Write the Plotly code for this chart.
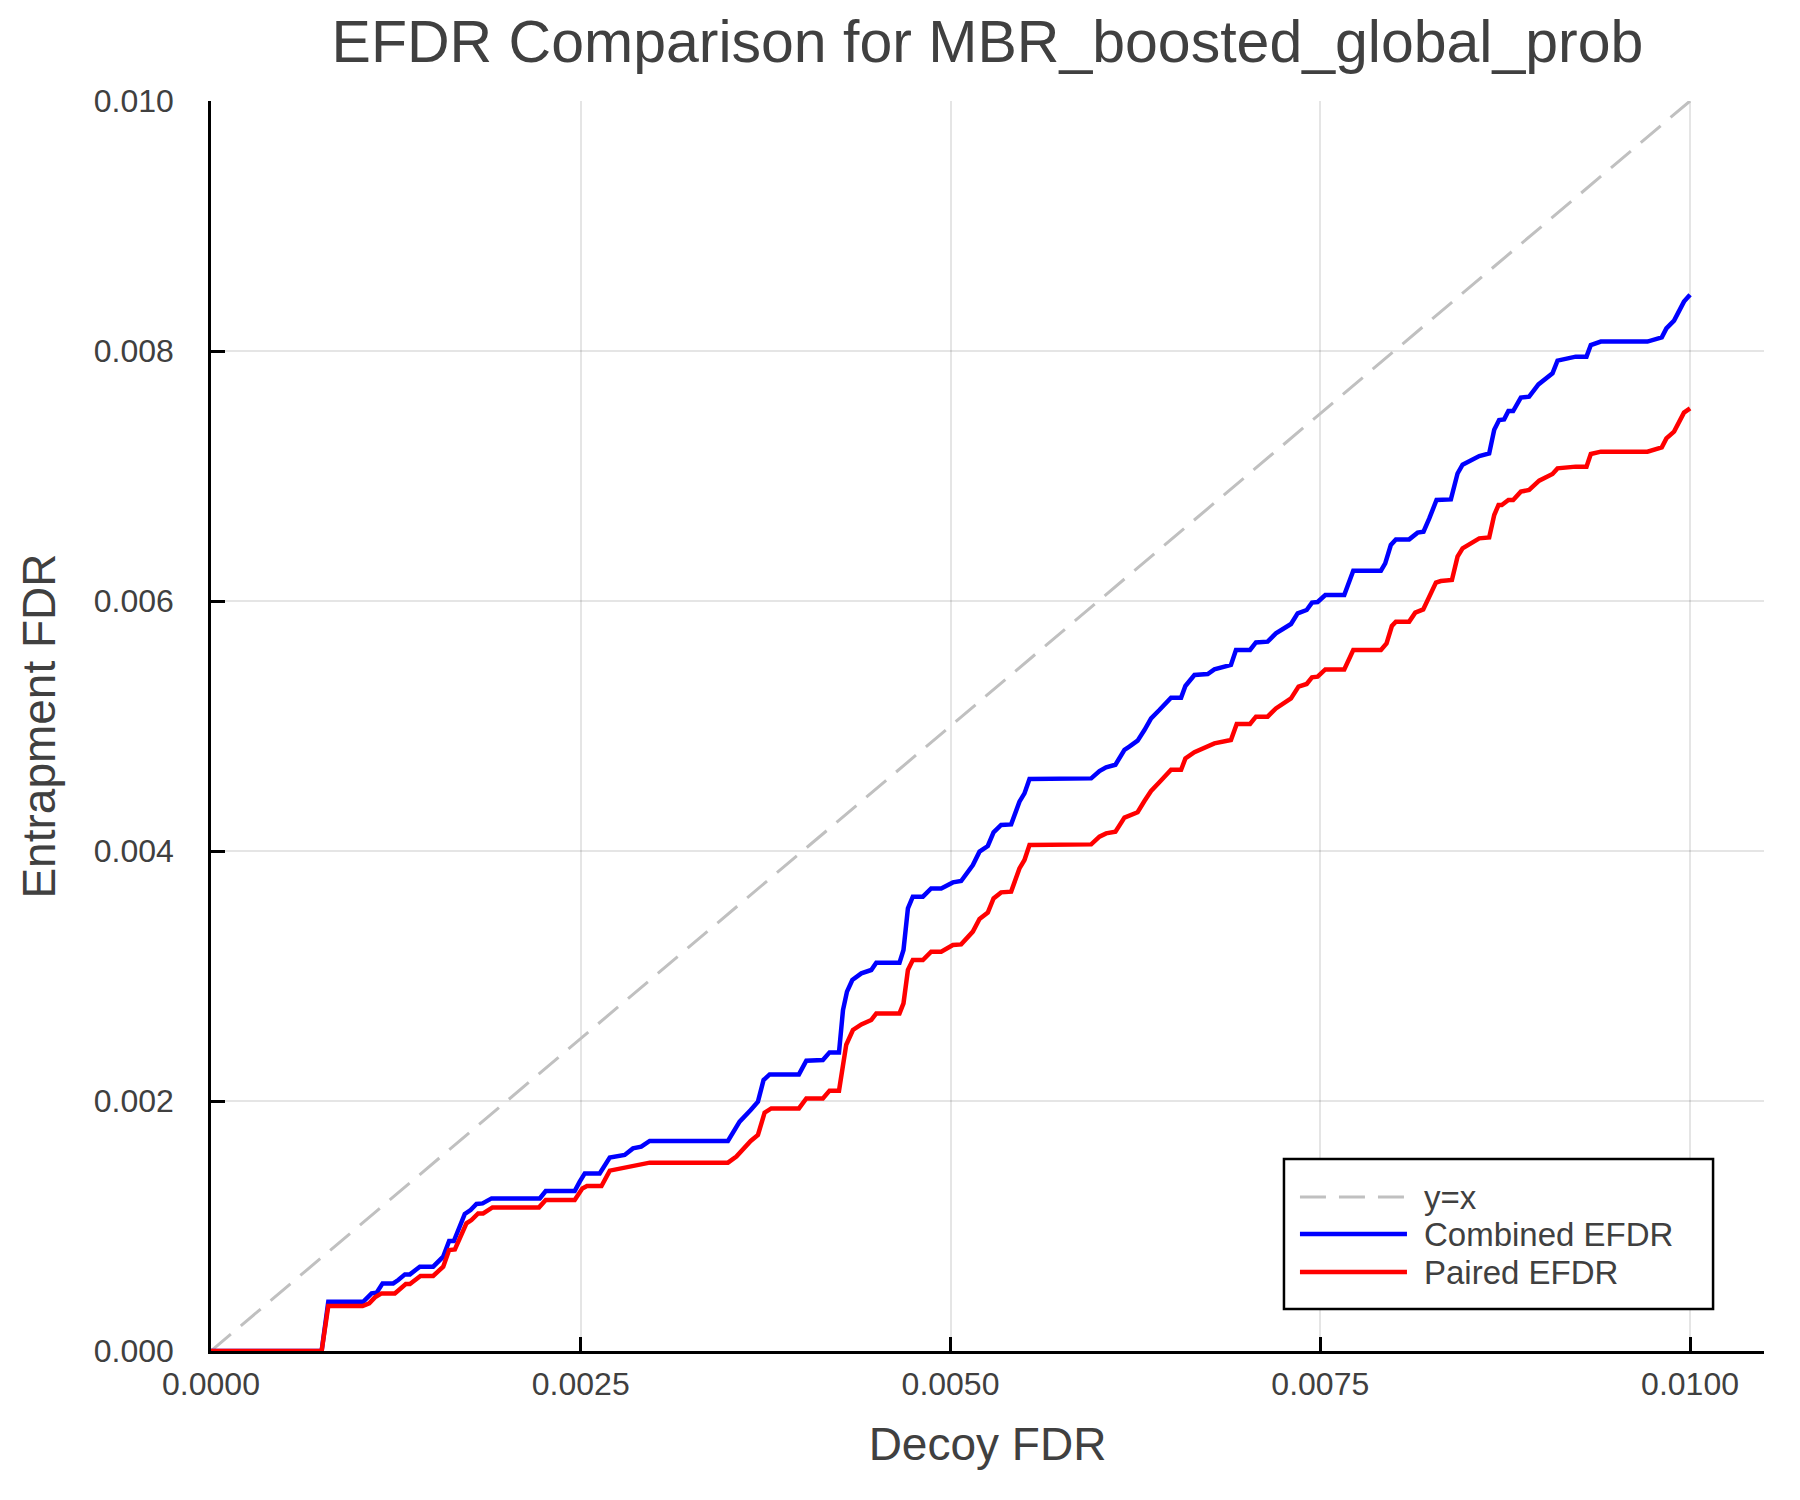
import plotly.graph_objects as go

# ---- data ----
diag_x = [0.0, 0.010]
diag_y = [0.0, 0.010]

combined_x = [0.0, 0.748e-3, 0.793e-3, 1.029e-3, 1.086e-3, 1.120e-3, 1.160e-3, 1.232e-3, 1.266e-3, 1.311e-3,
              1.345e-3, 1.412e-3, 1.502e-3, 1.570e-3, 1.610e-3, 1.642e-3, 1.716e-3, 1.755e-3, 1.795e-3, 1.836e-3,
              1.897e-3, 2.223e-3, 2.263e-3, 2.459e-3, 2.493e-3, 2.527e-3, 2.628e-3, 2.696e-3, 2.797e-3, 2.853e-3,
              2.909e-3, 2.966e-3, 3.495e-3, 3.574e-3, 3.649e-3, 3.698e-3, 3.736e-3, 3.777e-3, 3.975e-3, 4.025e-3,
              4.137e-3, 4.182e-3, 4.246e-3, 4.273e-3, 4.300e-3, 4.336e-3, 4.397e-3, 4.464e-3, 4.498e-3, 4.655e-3,
              4.682e-3, 4.712e-3, 4.745e-3, 4.813e-3, 4.869e-3, 4.937e-3, 5.016e-3, 5.072e-3, 5.151e-3, 5.196e-3,
              5.252e-3, 5.291e-3, 5.342e-3, 5.410e-3, 5.466e-3, 5.500e-3, 5.534e-3, 5.951e-3, 6.007e-3, 6.052e-3,
              6.115e-3, 6.176e-3, 6.209e-3, 6.265e-3, 6.311e-3, 6.356e-3, 6.412e-3, 6.491e-3, 6.559e-3, 6.588e-3,
              6.649e-3, 6.739e-3, 6.784e-3, 6.896e-3, 6.930e-3, 7.025e-3, 7.065e-3, 7.144e-3, 7.200e-3, 7.302e-3,
              7.347e-3, 7.408e-3, 7.444e-3, 7.482e-3, 7.534e-3, 7.662e-3, 7.723e-3, 7.910e-3, 7.939e-3, 7.977e-3,
              8.011e-3, 8.101e-3, 8.158e-3, 8.198e-3, 8.237e-3, 8.286e-3, 8.383e-3, 8.428e-3, 8.462e-3, 8.575e-3,
              8.642e-3, 8.676e-3, 8.709e-3, 8.743e-3, 8.772e-3, 8.804e-3, 8.856e-3, 8.912e-3, 8.975e-3, 9.014e-3,
              9.070e-3, 9.104e-3, 9.227e-3, 9.300e-3, 9.329e-3, 9.397e-3, 9.712e-3, 9.809e-3, 9.840e-3, 9.892e-3,
              9.959e-3, 10.0e-3]
combined_y = [0.0, 0.0, 0.394e-3, 0.394e-3, 0.461e-3, 0.467e-3, 0.541e-3, 0.541e-3, 0.568e-3, 0.613e-3,
              0.613e-3, 0.675e-3, 0.675e-3, 0.755e-3, 0.880e-3, 0.880e-3, 1.096e-3, 1.128e-3, 1.176e-3, 1.181e-3,
              1.221e-3, 1.221e-3, 1.280e-3, 1.280e-3, 1.355e-3, 1.421e-3, 1.421e-3, 1.547e-3, 1.568e-3, 1.621e-3,
              1.635e-3, 1.680e-3, 1.680e-3, 1.835e-3, 1.928e-3, 1.995e-3, 2.168e-3, 2.213e-3, 2.213e-3, 2.323e-3,
              2.328e-3, 2.389e-3, 2.389e-3, 2.728e-3, 2.875e-3, 2.968e-3, 3.021e-3, 3.048e-3, 3.107e-3, 3.107e-3,
              3.208e-3, 3.541e-3, 3.635e-3, 3.635e-3, 3.701e-3, 3.701e-3, 3.749e-3, 3.760e-3, 3.888e-3, 3.995e-3,
              4.040e-3, 4.149e-3, 4.208e-3, 4.213e-3, 4.395e-3, 4.461e-3, 4.576e-3, 4.581e-3, 4.640e-3, 4.670e-3,
              4.690e-3, 4.810e-3, 4.835e-3, 4.883e-3, 4.968e-3, 5.061e-3, 5.128e-3, 5.227e-3, 5.227e-3, 5.320e-3,
              5.408e-3, 5.416e-3, 5.453e-3, 5.488e-3, 5.608e-3, 5.608e-3, 5.669e-3, 5.675e-3, 5.741e-3, 5.816e-3,
              5.901e-3, 5.928e-3, 5.987e-3, 5.992e-3, 6.048e-3, 6.048e-3, 6.243e-3, 6.243e-3, 6.301e-3, 6.448e-3,
              6.493e-3, 6.493e-3, 6.547e-3, 6.555e-3, 6.661e-3, 6.808e-3, 6.813e-3, 7.020e-3, 7.090e-3, 7.160e-3,
              7.180e-3, 7.370e-3, 7.448e-3, 7.453e-3, 7.520e-3, 7.520e-3, 7.627e-3, 7.635e-3, 7.733e-3, 7.768e-3,
              7.821e-3, 7.923e-3, 7.955e-3, 7.955e-3, 8.048e-3, 8.075e-3, 8.075e-3, 8.109e-3, 8.181e-3, 8.243e-3,
              8.395e-3, 8.450e-3]

paired_x = [0.0, 0.748e-3, 0.793e-3, 1.025e-3, 1.070e-3, 1.108e-3, 1.153e-3, 1.243e-3, 1.317e-3, 1.345e-3,
            1.416e-3, 1.502e-3, 1.570e-3, 1.610e-3, 1.649e-3, 1.727e-3, 1.761e-3, 1.806e-3, 1.840e-3, 1.903e-3,
            2.218e-3, 2.263e-3, 2.459e-3, 2.511e-3, 2.542e-3, 2.640e-3, 2.696e-3, 2.764e-3, 2.853e-3, 2.966e-3,
            3.495e-3, 3.552e-3, 3.649e-3, 3.698e-3, 3.743e-3, 3.788e-3, 3.975e-3, 4.025e-3, 4.137e-3, 4.182e-3,
            4.246e-3, 4.265e-3, 4.295e-3, 4.340e-3, 4.397e-3, 4.464e-3, 4.498e-3, 4.655e-3, 4.682e-3, 4.712e-3,
            4.745e-3, 4.813e-3, 4.869e-3, 4.937e-3, 5.016e-3, 5.072e-3, 5.151e-3, 5.196e-3, 5.252e-3, 5.291e-3,
            5.342e-3, 5.410e-3, 5.466e-3, 5.500e-3, 5.534e-3, 5.951e-3, 6.007e-3, 6.052e-3, 6.115e-3, 6.176e-3,
            6.209e-3, 6.265e-3, 6.311e-3, 6.356e-3, 6.412e-3, 6.491e-3, 6.559e-3, 6.588e-3, 6.649e-3, 6.682e-3,
            6.784e-3, 6.896e-3, 6.935e-3, 7.025e-3, 7.065e-3, 7.144e-3, 7.200e-3, 7.302e-3, 7.353e-3, 7.408e-3,
            7.444e-3, 7.482e-3, 7.534e-3, 7.662e-3, 7.723e-3, 7.910e-3, 7.948e-3, 7.984e-3, 8.011e-3, 8.101e-3,
            8.142e-3, 8.196e-3, 8.282e-3, 8.315e-3, 8.390e-3, 8.428e-3, 8.462e-3, 8.575e-3, 8.642e-3, 8.676e-3,
            8.705e-3, 8.727e-3, 8.772e-3, 8.804e-3, 8.856e-3, 8.912e-3, 8.980e-3, 9.070e-3, 9.104e-3, 9.227e-3,
            9.300e-3, 9.329e-3, 9.397e-3, 9.712e-3, 9.809e-3, 9.840e-3, 9.892e-3, 9.959e-3, 10.0e-3]
paired_y = [0.0, 0.0, 0.360e-3, 0.360e-3, 0.381e-3, 0.429e-3, 0.461e-3, 0.461e-3, 0.536e-3, 0.536e-3,
            0.600e-3, 0.600e-3, 0.675e-3, 0.808e-3, 0.813e-3, 1.021e-3, 1.048e-3, 1.101e-3, 1.101e-3, 1.149e-3,
            1.149e-3, 1.208e-3, 1.208e-3, 1.301e-3, 1.320e-3, 1.320e-3, 1.443e-3, 1.461e-3, 1.480e-3, 1.507e-3,
            1.507e-3, 1.555e-3, 1.680e-3, 1.728e-3, 1.907e-3, 1.941e-3, 1.941e-3, 2.021e-3, 2.021e-3, 2.083e-3,
            2.083e-3, 2.250e-3, 2.450e-3, 2.568e-3, 2.613e-3, 2.648e-3, 2.701e-3, 2.701e-3, 2.781e-3, 3.048e-3,
            3.128e-3, 3.128e-3, 3.195e-3, 3.195e-3, 3.248e-3, 3.253e-3, 3.355e-3, 3.456e-3, 3.507e-3, 3.621e-3,
            3.669e-3, 3.675e-3, 3.861e-3, 3.928e-3, 4.048e-3, 4.053e-3, 4.115e-3, 4.141e-3, 4.155e-3, 4.267e-3,
            4.280e-3, 4.310e-3, 4.400e-3, 4.480e-3, 4.550e-3, 4.650e-3, 4.650e-3, 4.740e-3, 4.790e-3, 4.808e-3,
            4.861e-3, 4.888e-3, 5.016e-3, 5.016e-3, 5.075e-3, 5.075e-3, 5.141e-3, 5.221e-3, 5.315e-3, 5.336e-3,
            5.389e-3, 5.395e-3, 5.453e-3, 5.453e-3, 5.608e-3, 5.608e-3, 5.661e-3, 5.800e-3, 5.835e-3, 5.835e-3,
            5.907e-3, 5.933e-3, 6.147e-3, 6.160e-3, 6.168e-3, 6.355e-3, 6.421e-3, 6.501e-3, 6.509e-3, 6.688e-3,
            6.768e-3, 6.768e-3, 6.808e-3, 6.808e-3, 6.875e-3, 6.888e-3, 6.963e-3, 7.016e-3, 7.061e-3, 7.075e-3,
            7.075e-3, 7.176e-3, 7.195e-3, 7.195e-3, 7.229e-3, 7.301e-3, 7.355e-3, 7.507e-3, 7.541e-3]

x_ticks = [0.0, 0.0025, 0.005, 0.0075, 0.010]
y_ticks = [0.0, 0.002, 0.004, 0.006, 0.008, 0.010]

series_names = ["y=x", "Combined EFDR", "Paired EFDR"]

# ---- style ----
FONT = "Liberation Sans, Arial, Helvetica, sans-serif"
TXT = "#404040"
C_DIAG = "#c0c0c0"
C_BLUE = "#0000ff"
C_RED = "#ff0000"
DIAG_DASH = "26px,13px"
LW = 4.5

fig = go.Figure()
fig.add_trace(go.Scatter(x=diag_x, y=diag_y, mode="lines", name=series_names[0],
                         line=dict(color=C_DIAG, width=3, dash=DIAG_DASH), showlegend=False))
fig.add_trace(go.Scatter(x=combined_x, y=combined_y, mode="lines", name=series_names[1],
                         line=dict(color=C_BLUE, width=LW), showlegend=False))
fig.add_trace(go.Scatter(x=paired_x, y=paired_y, mode="lines", name=series_names[2],
                         line=dict(color=C_RED, width=LW), showlegend=False))

# ---- hand-drawn legend box (paper coords) ----
lg_x0, lg_x1, lg_y0, lg_y1 = 0.6909, 0.9672, 0.0336, 0.1536
sample_x0, sample_x1, text_x = 0.7012, 0.7701, 0.7798
row_y = [0.1232, 0.0936, 0.0632]
legend_styles = [dict(color=C_DIAG, width=3, dash=DIAG_DASH),
                 dict(color=C_BLUE, width=LW),
                 dict(color=C_RED, width=LW)]

shapes = [dict(type="rect", xref="paper", yref="paper", x0=lg_x0, x1=lg_x1, y0=lg_y0, y1=lg_y1,
               line=dict(color="black", width=2.5), fillcolor="white", layer="above")]
annotations = []
for name, ry, st in zip(series_names, row_y, legend_styles):
    shapes.append(dict(type="line", xref="paper", yref="paper", x0=sample_x0, x1=sample_x1,
                       y0=ry, y1=ry, line=st, layer="above"))
    annotations.append(dict(xref="paper", yref="paper", x=text_x, y=ry, text=name, showarrow=False,
                            xanchor="left", yanchor="middle", font=dict(size=33, color=TXT, family=FONT)))

axis_common = dict(showline=True, linecolor="black", linewidth=2.5, mirror=False,
                   ticks="inside", ticklen=14, tickwidth=2.5, tickcolor="black",
                   showgrid=True, gridcolor="rgba(0,0,0,0.1)", gridwidth=1.5, zeroline=False,
                   tickfont=dict(size=32, color=TXT, family=FONT))

fig.update_layout(
    width=1800, height=1500,
    paper_bgcolor="white", plot_bgcolor="white",
    margin=dict(l=203, r=44, t=93, b=157, autoexpand=False),
    title=dict(text="EFDR Comparison for MBR_boosted_global_prob", x=0.5, xref="paper",
               y=0.9775, yref="container", yanchor="middle",
               font=dict(size=59, color=TXT, family=FONT)),
    xaxis=dict(range=[0, 0.0105], tickvals=x_ticks, tickformat=".4f",
               title=dict(text="Decoy FDR", font=dict(size=46, color=TXT, family=FONT), standoff=27),
               ticklabelstandoff=3, **axis_common),
    yaxis=dict(range=[0, 0.010], tickvals=y_ticks, tickformat=".3f",
               title=dict(text="Entrapment FDR", font=dict(size=46, color=TXT, family=FONT), standoff=24),
               ticklabelstandoff=28, **axis_common),
    shapes=shapes, annotations=annotations,
    showlegend=False,
)

fig.write_html("out.html")
